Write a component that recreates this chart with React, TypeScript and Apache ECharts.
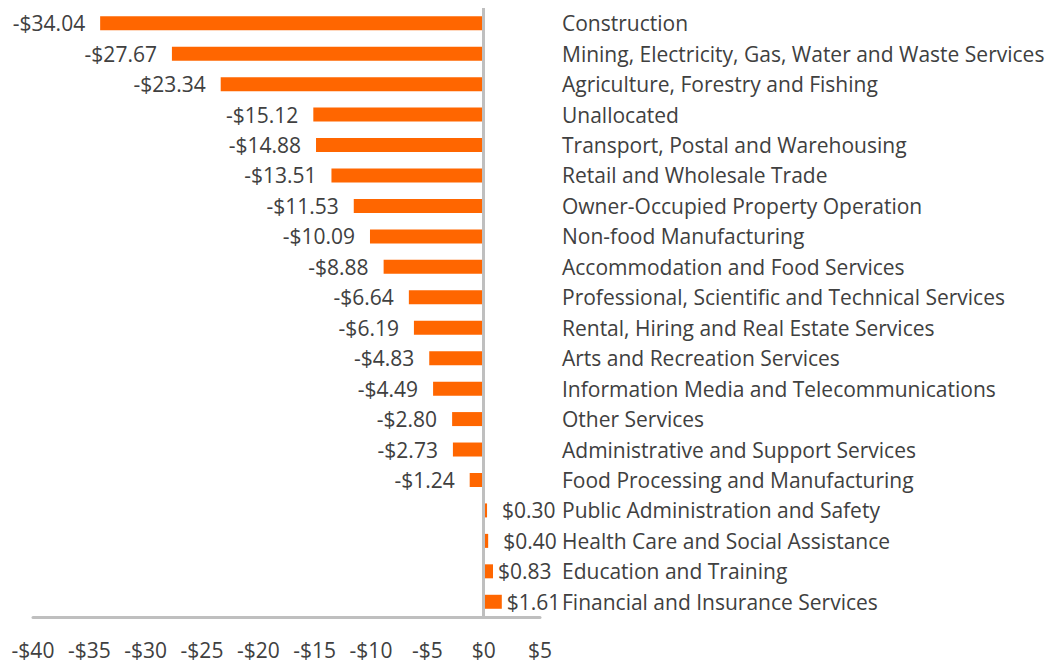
import React, { useEffect, useRef } from "react";
import * as echarts from "echarts";

const categories = [
  "Construction",
  "Mining, Electricity, Gas, Water and Waste Services",
  "Agriculture, Forestry and Fishing",
  "Unallocated",
  "Transport, Postal and Warehousing",
  "Retail and Wholesale Trade",
  "Owner-Occupied Property Operation",
  "Non-food Manufacturing",
  "Accommodation and Food Services",
  "Professional, Scientific and Technical Services",
  "Rental, Hiring and Real Estate Services",
  "Arts and Recreation Services",
  "Information Media and Telecommunications",
  "Other Services",
  "Administrative and Support Services",
  "Food Processing and Manufacturing",
  "Public Administration and Safety",
  "Health Care and Social Assistance",
  "Education and Training",
  "Financial and Insurance Services",
];

const values = [
  -34.04, -27.67, -23.34, -15.12, -14.88, -13.51, -11.53, -10.09, -8.88, -6.64,
  -6.19, -4.83, -4.49, -2.8, -2.73, -1.24, 0.3, 0.4, 0.83, 1.61,
];

const FONT = "'Open Sans', sans-serif";
const TEXT = "#404040";

const money = (v: number, digits: number) =>
  (v < 0 ? "-$" : "$") + Math.abs(v).toFixed(digits);

export default function App() {
  const ref = useRef<HTMLDivElement>(null);
  useEffect(() => {
    if (!ref.current) return;
    const chart = echarts.init(ref.current, undefined, { renderer: "svg" });
    chart.setOption({
      animation: false,
      backgroundColor: "#ffffff",
      grid: { left: 33, right: 513, top: 8, bottom: 47, containLabel: false },
      xAxis: {
        type: "value",
        min: -40,
        max: 5,
        interval: 5,
        splitLine: { show: false },
        axisTick: { show: false },
        axisLine: { show: true, lineStyle: { color: "#bfbfbf", width: 3 } },
        axisLabel: {
          color: TEXT,
          fontFamily: FONT,
          fontSize: 21,
          margin: 22,
          formatter: (v: number) => money(v, 0),
        },
      },
      yAxis: {
        type: "category",
        data: categories,
        inverse: true,
        position: "right",
        axisLine: { show: false },
        axisTick: { show: false },
        axisLabel: {
          color: TEXT,
          fontFamily: FONT,
          fontSize: 21,
          align: "left",
          margin: 22,
        },
      },
      series: [
        {
          type: "bar",
          barWidth: 14,
          itemStyle: { color: "#ff6600" },
          data: values.map((v) => ({
            value: v,
            label: {
              show: true,
              position: v < 0 ? "left" : "right",
              distance: v < 0 || v < 0.5 ? 15 : 5,
              color: TEXT,
              fontFamily: FONT,
              fontSize: 21,
              formatter: () => money(v, 2),
            },
          })),
          markLine: {
            silent: true,
            symbol: "none",
            label: { show: false },
            lineStyle: { color: "#bfbfbf", width: 3, type: "solid" },
            data: [{ xAxis: 0 }],
          },
        },
      ],
    });
    return () => chart.dispose();
  }, []);
  return (
    <div
      ref={ref}
      style={{ position: "fixed", left: 0, top: 0, width: 1053, height: 664 }}
    />
  );
}
